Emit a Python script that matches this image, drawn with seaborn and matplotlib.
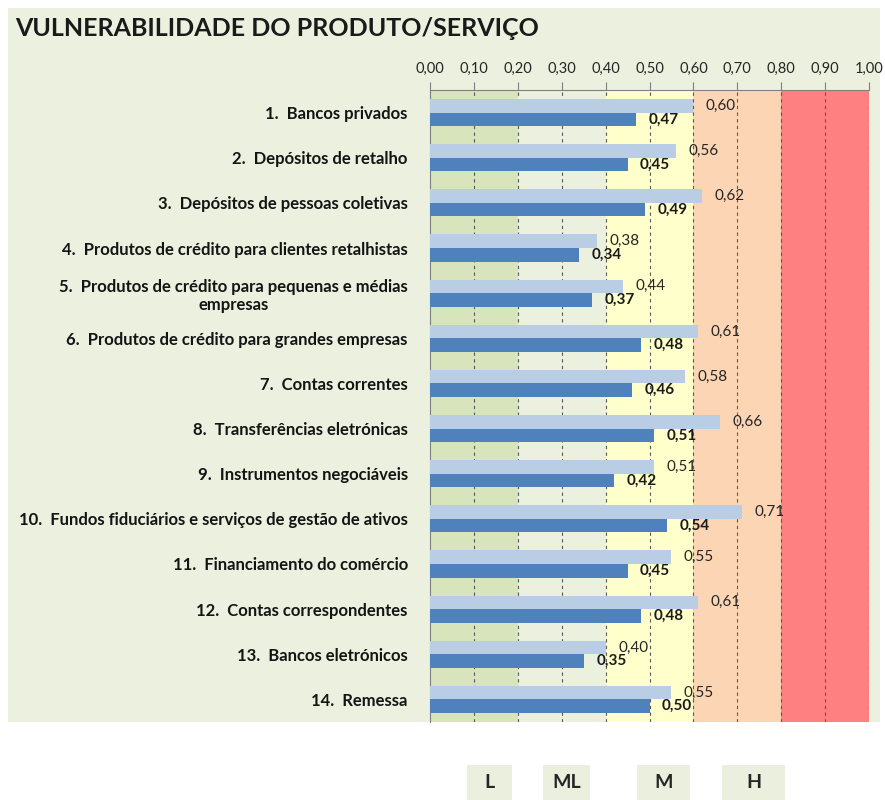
import matplotlib
matplotlib.use("Agg")
import matplotlib.pyplot as plt
import matplotlib.patches as mpatches
import seaborn as sns
import pandas as pd

categorias = [
    "1.  Bancos privados",
    "2.  Depósitos de retalho",
    "3.  Depósitos de pessoas coletivas",
    "4.  Produtos de crédito para clientes retalhistas",
    "5.  Produtos de crédito para pequenas e médias\nempresas",
    "6.  Produtos de crédito para grandes empresas",
    "7.  Contas correntes",
    "8.  Transferências eletrónicas",
    "9.  Instrumentos negociáveis",
    "10.  Fundos fiduciários e serviços de gestão de ativos",
    "11.  Financiamento do comércio",
    "12.  Contas correspondentes",
    "13.  Bancos eletrónicos",
    "14.  Remessa",
]
valores_claro = [0.60, 0.56, 0.62, 0.38, 0.44, 0.61, 0.58, 0.66, 0.51, 0.71, 0.55, 0.61, 0.40, 0.55]
valores_escuro = [0.47, 0.45, 0.49, 0.34, 0.37, 0.48, 0.46, 0.51, 0.42, 0.54, 0.45, 0.48, 0.35, 0.50]
series = ["claro", "escuro"]
ticks_x = [0.0, 0.1, 0.2, 0.3, 0.4, 0.5, 0.6, 0.7, 0.8, 0.9, 1.0]
niveis = ["L", "ML", "M", "H"]

# faixas de risco no fundo
faixas = [(0.0, 0.2, "#d8e4bc"), (0.2, 0.4, "#ebf1de"), (0.4, 0.6, "#ffffcc"),
          (0.6, 0.8, "#fcd5b4"), (0.8, 1.0, "#ff8080")]

df = pd.DataFrame({
    "categoria": categorias * 2,
    "valor": valores_claro + valores_escuro,
    "serie": [series[0]] * len(categorias) + [series[1]] * len(categorias),
})

sns.set_style("white")
plt.rcParams["font.family"] = ["Lato", "DejaVu Sans"]

fig = plt.figure(figsize=(8.85, 8.0), dpi=100)
fig.patches.append(mpatches.Rectangle((8 / 885, 1 - 722 / 800), 872 / 885, 714 / 800,
                                      transform=fig.transFigure, facecolor="#ebf0df",
                                      edgecolor="none", zorder=-10))
ax = fig.add_axes([430 / 885, 1 - 722 / 800, 439 / 885, 632 / 800])
ax.set_facecolor("none")

for x0, x1, cor in faixas:
    ax.axvspan(x0, x1, color=cor, zorder=0, lw=0)

sns.barplot(data=df, y="categoria", x="valor", hue="serie", orient="h",
            palette=["#b9cde5", "#4f81bd"], width=0.6, legend=False, ax=ax, zorder=3,
            saturation=1, linewidth=0)

fmt = lambda v: f"{v:.2f}".replace(".", ",")
ax.bar_label(ax.containers[0], labels=[fmt(v) for v in valores_claro], padding=9,
             fontsize=11, color="#262626", zorder=4)
ax.bar_label(ax.containers[1], labels=[fmt(v) for v in valores_escuro], padding=9,
             fontsize=11, fontweight="bold", color="#1a1a1a", zorder=4)

ax.set_xlim(0, 1.0)
ax.set_ylim(len(categorias) - 0.5, -0.5)
ax.set_xticks(ticks_x)
ax.set_xticklabels([fmt(t) for t in ticks_x], fontsize=10.5, color="#262626")
ax.xaxis.tick_top()
ax.tick_params(axis="x", direction="out", length=6, color="#808080", pad=4)
for t in ticks_x[1:]:
    ax.axvline(t, color="#595959", lw=0.8, ls=(0, (3, 3)), zorder=2)

ax.set_yticks(range(len(categorias)))
ax.set_yticklabels(categorias, fontsize=12, fontweight="bold", color="#141414",
                   ha="right", multialignment="center")
ax.tick_params(axis="y", length=0, pad=16)
# marcas entre categorias
ax.set_yticks([i + 0.5 for i in range(-1, len(categorias))], minor=True)
ax.tick_params(axis="y", which="minor", direction="out", length=8, color="#808080")
ax.set_xlabel("")
ax.set_ylabel("")
for lado in ["right", "bottom"]:
    ax.spines[lado].set_visible(False)
ax.spines["left"].set_color("#808080")
ax.spines["top"].set_color("#808080")

fig.text(15 / 885, 1 - 28 / 800, "VULNERABILIDADE DO PRODUTO/SERVIÇO", fontsize=18,
         fontweight="bold", color="#1a1a1a", va="center", ha="left")

# caixas da legenda de níveis (esquerda, largura em px)
caixas = [(467, 45), (543, 47), (637, 53), (722, 63)]
for nome, (xp, w) in zip(niveis, caixas):
    fig.patches.append(mpatches.Rectangle((xp / 885, 0), w / 885, 35 / 800,
                                          transform=fig.transFigure, facecolor="#ebf0de",
                                          edgecolor="none"))
    fig.text((xp + w / 2) / 885, 17 / 800, nome, fontsize=14, fontweight="bold",
             color="#262626", ha="center", va="center")

fig.savefig("out.png", dpi=100)
